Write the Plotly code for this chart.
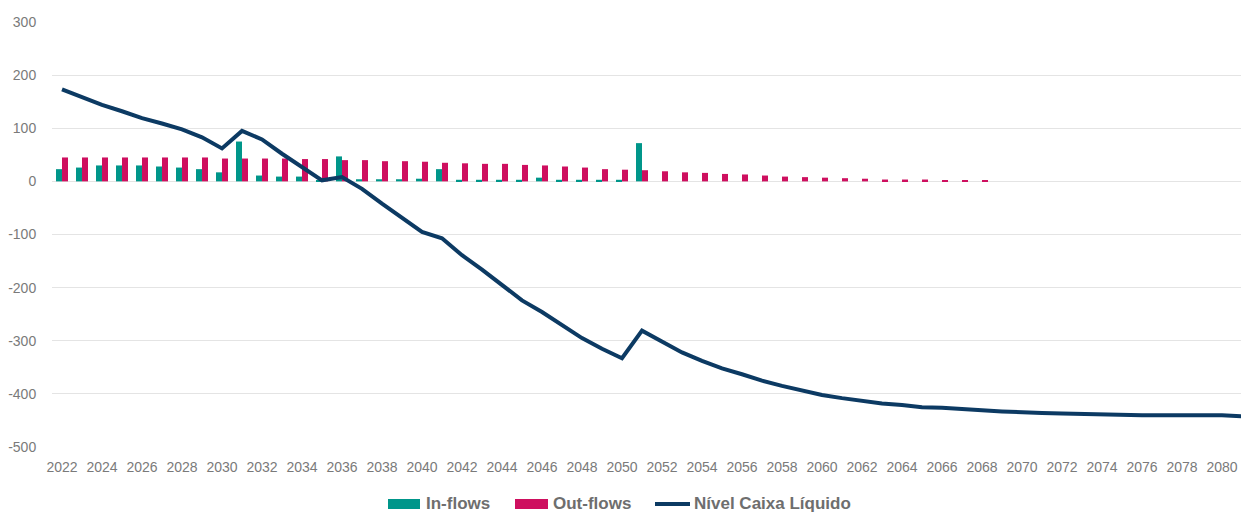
import plotly.graph_objects as go

# ---- data -------------------------------------------------------------
years = list(range(2022, 2082))

in_flows = [23, 26, 30, 30, 30, 28, 26, 23, 17, 75,
            11, 9, 9, 2, 47, 4, 4, 4, 5, 23,
            3, 3, 3, 3, 7, 3, 3, 3, 3, 72,
            0, 0, 0, 0, 0, 0, 0, 0, 0, 0,
            0, 0, 0, 0, 0, 0, 0, 0, 0, 0,
            0, 0, 0, 0, 0, 0, 0, 0, 0, 0]

out_flows = [45, 45, 45, 45, 45, 45, 45, 45, 43, 43,
             43, 43, 42, 42, 40, 40, 38, 38, 37, 35,
             34, 33, 33, 31, 30, 28, 26, 23, 22, 21,
             19, 17, 16, 14, 13, 11, 9, 8, 7, 6,
             5, 3.5, 3.5, 3.5, 2, 2, 2, 0, 0, 0,
             0, 0, 0, 0, 0, 0, 0, 0, 0, 0]

nivel_caixa = [173, 159, 144, 132, 119, 109, 98, 83, 62, 95,
               79, 52, 27, 2, 8, -14, -42, -68, -95, -107,
               -139, -166, -195, -224, -246, -271, -295, -315, -333, -281,
               -302, -322, -338, -352, -363, -375, -385, -394, -402, -408,
               -413, -418, -421, -425, -426, -429, -431, -433, -435, -436,
               -437, -438, -439, -440, -440, -440, -440, -440, -440, -442]

series_names = ["In-flows", "Out-flows", "Nível Caixa Líquido"]
y_ticks = [300, 200, 100, 0, -100, -200, -300, -400, -500]

assert len(in_flows) == len(out_flows) == len(nivel_caixa) == len(years)

# ---- styling ----------------------------------------------------------
TEAL = "#00968A"
MAGENTA = "#CE0F5F"
NAVY = "#0C3A63"
GRID = "#E4E4E4"
TICK_TXT = "#7A7A7A"
LEG_TXT = "#6E6E6E"
FONT = "Liberation Sans, Arial, sans-serif"

W, H = 1241, 513
ML, MR, MT, MB = 52, 0, 22, 66
PW, PH = W - ML - MR, H - MT - MB


def px_x(px):
    return (px - ML) / PW


def px_y(py):
    return (H - MB - py) / PH


fig = go.Figure()
fig.add_bar(x=years, y=in_flows, name=series_names[0], marker_color=TEAL,
            marker_line_width=0)
fig.add_bar(x=years, y=out_flows, name=series_names[1], marker_color=MAGENTA,
            marker_line_width=0)
fig.add_scatter(x=years, y=nivel_caixa, name=series_names[2], mode="lines",
                line=dict(color=NAVY, width=4))

fig.update_layout(
    width=W, height=H,
    margin=dict(l=ML, r=MR, t=MT, b=MB, pad=0),
    paper_bgcolor="white", plot_bgcolor="white",
    barmode="group", bargap=0.4, bargroupgap=0,
    showlegend=False,
    font=dict(family=FONT, size=14, color=TICK_TXT),
)

fig.update_xaxes(
    range=[2021.5, 2021.5 + PW / 20.0],
    tickmode="linear", tick0=2022, dtick=2,
    showgrid=False, zeroline=False, showline=False,
    ticks="outside", ticklen=7, tickcolor="rgba(0,0,0,0)",
    tickfont=dict(size=14, color=TICK_TXT, family=FONT),
)
fig.update_yaxes(
    range=[-500, 300],
    tickmode="array", tickvals=y_ticks, ticktext=[str(v) for v in y_ticks],
    showgrid=True, gridcolor=GRID, gridwidth=1,
    zeroline=False, showline=False,
    ticks="outside", ticklen=12, tickcolor="rgba(0,0,0,0)",
    tickfont=dict(size=14, color=TICK_TXT, family=FONT),
)

# ---- legend drawn below the plot -------------------------------------
LEG_Y = 504
legend_items = [
    ("bar", TEAL, 388, 420, 424, series_names[0]),
    ("bar", MAGENTA, 515, 548, 551, series_names[1]),
    ("line", NAVY, 655, 690, 692, series_names[2]),
]
for kind, color, x0, x1, tx, label in legend_items:
    if kind == "bar":
        fig.add_shape(type="rect", xref="paper", yref="paper",
                      x0=px_x(x0), x1=px_x(x1),
                      y0=px_y(LEG_Y + 5), y1=px_y(LEG_Y - 5),
                      fillcolor=color, line_width=0)
    else:
        fig.add_shape(type="line", xref="paper", yref="paper",
                      x0=px_x(x0), x1=px_x(x1),
                      y0=px_y(LEG_Y), y1=px_y(LEG_Y),
                      line=dict(color=color, width=4))
    fig.add_annotation(text="<b>%s</b>" % label, xref="paper", yref="paper",
                       x=px_x(tx), y=px_y(LEG_Y), xanchor="left",
                       yanchor="middle", showarrow=False,
                       font=dict(family=FONT, size=17, color=LEG_TXT))

fig.write_html("out.html")
